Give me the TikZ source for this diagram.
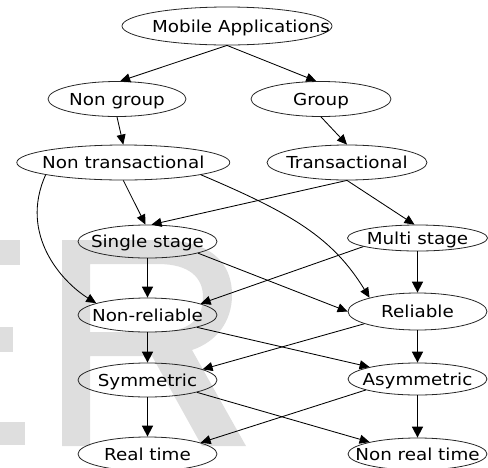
\documentclass[tikz,border=0pt]{standalone}
\usepackage{fontspec}
\setmainfont{DejaVu Sans}[FakeStretch=1.11]
\usetikzlibrary{shapes.geometric,arrows.meta}
\definecolor{wm}{RGB}{222,222,222}
\newcommand{\ntxt}[1]{\makebox[0pt]{\smash{#1}\rule{0pt}{12pt}}}
\begin{document}
\begin{tikzpicture}[x=1pt,y=-1pt,
  gnode/.style={ellipse, draw=black!85, line width=0.8pt, inner sep=0pt,
    minimum width=139pt, font=\fontsize{16.5}{20}\selectfont},
  ethin/.style={-{Triangle[length=10pt,width=9pt]}, line width=0.85pt},
  ethick/.style={-{Triangle[length=11pt,width=11pt]}, line width=1.6pt}]
\useasboundingbox (0,0) rectangle (488,467);
\clip (0,0) rectangle (488,467);
% watermark
\fill[wm] (0,240) rectangle (20,265);
\fill[wm] (0,327) rectangle (13,352);
\fill[wm] (0,422) rectangle (25,445);
\fill[wm,even odd rule] (62,240) -- (160,240) .. controls (210,240) and (232,262) .. (232,295)
  .. controls (232,322) and (216,342) .. (192,350) -- (246,446) -- (202,446) -- (152,356)
  -- (90,356) -- (90,446) -- (62,446) -- cycle
  (90,264) -- (158,264) .. controls (190,264) and (203,278) .. (203,297)
  .. controls (203,318) and (190,332) .. (158,332) -- (90,332) -- cycle;
% nodes
\node[gnode, minimum width=210pt, minimum height=38pt] (m) at (227,26) {\ntxt{\hspace{28pt}Mobile Applications}};
\node[gnode, minimum width=138pt, minimum height=35pt] (ng) at (117,99) {\ntxt{Non group}};
\node[gnode, minimum width=140pt, minimum height=35pt] (g) at (321,99) {\ntxt{Group}};
\node[gnode, minimum width=213pt, minimum height=35pt] (nt) at (123.3,162.5) {\ntxt{Non transactional}};
\node[gnode, minimum width=160pt, minimum height=35pt] (t) at (347,162.5) {\ntxt{Transactional}};
\node[gnode, minimum height=33pt] (ss) at (147.5,241.5) {\ntxt{Single stage}};
\node[gnode, minimum width=140pt, minimum height=26pt] (ms) at (417.5,238) {\ntxt{Multi stage}};
\node[gnode, minimum height=34pt] (nr) at (147.5,315) {\ntxt{Non-reliable}};
\node[gnode, minimum height=37pt] (rel) at (417.5,311.5) {\ntxt{Reliable}};
\node[gnode, minimum height=34pt] (sym) at (147.5,380) {\ntxt{Symmetric}};
\node[gnode, minimum height=32pt] (asym) at (417.5,379) {\ntxt{Asymmetric}};
\node[gnode, minimum height=34pt] (rt) at (147.5,454) {\ntxt{Real time}};
\node[gnode, minimum height=32pt] (nrt) at (417.5,454) {\ntxt{Non real time}};
% edges
\draw[ethin] (m.south) -- (ng.80);
\draw[ethin] (m.south) -- (g.105);
\draw[ethin] (ng.south) -- (nt.north);
\draw[ethin] (g.south) -- (t.north);
\draw[ethin] (nt.south) -- ([xshift=-2pt]ss.north);
\draw[ethin] (t.south) -- ([xshift=4pt]ss.north);
\draw[ethin] (t.south) -- ([xshift=-3pt]ms.north);
\draw[ethin] (nt.189) .. controls +(-27,60) and +(-34,-21) .. (nr.167);
\draw[ethin] (nt.351) .. controls +(92,39) and +(-37,-60) .. (rel.164);
\draw[ethick] (ss.south) -- (nr.north);
\draw[ethin] (ss.347) -- (rel.west);
\draw[ethin] (ms.189) -- (nr.12);
\draw[ethick] (ms.south) -- (rel.north);
\draw[ethick] (nr.south) -- (sym.north);
\draw[ethin] (nr.346) -- (asym.166);
\draw[ethin] (rel.193) -- (sym.11);
\draw[ethick] (rel.south) -- (asym.north);
\draw[ethick] (sym.south) -- (rt.north);
\draw[ethin] (sym.346) -- (nrt.166);
\draw[ethin] (asym.192) -- (rt.12);
\draw[ethick] (asym.south) -- (nrt.north);
\end{tikzpicture}
\end{document}
